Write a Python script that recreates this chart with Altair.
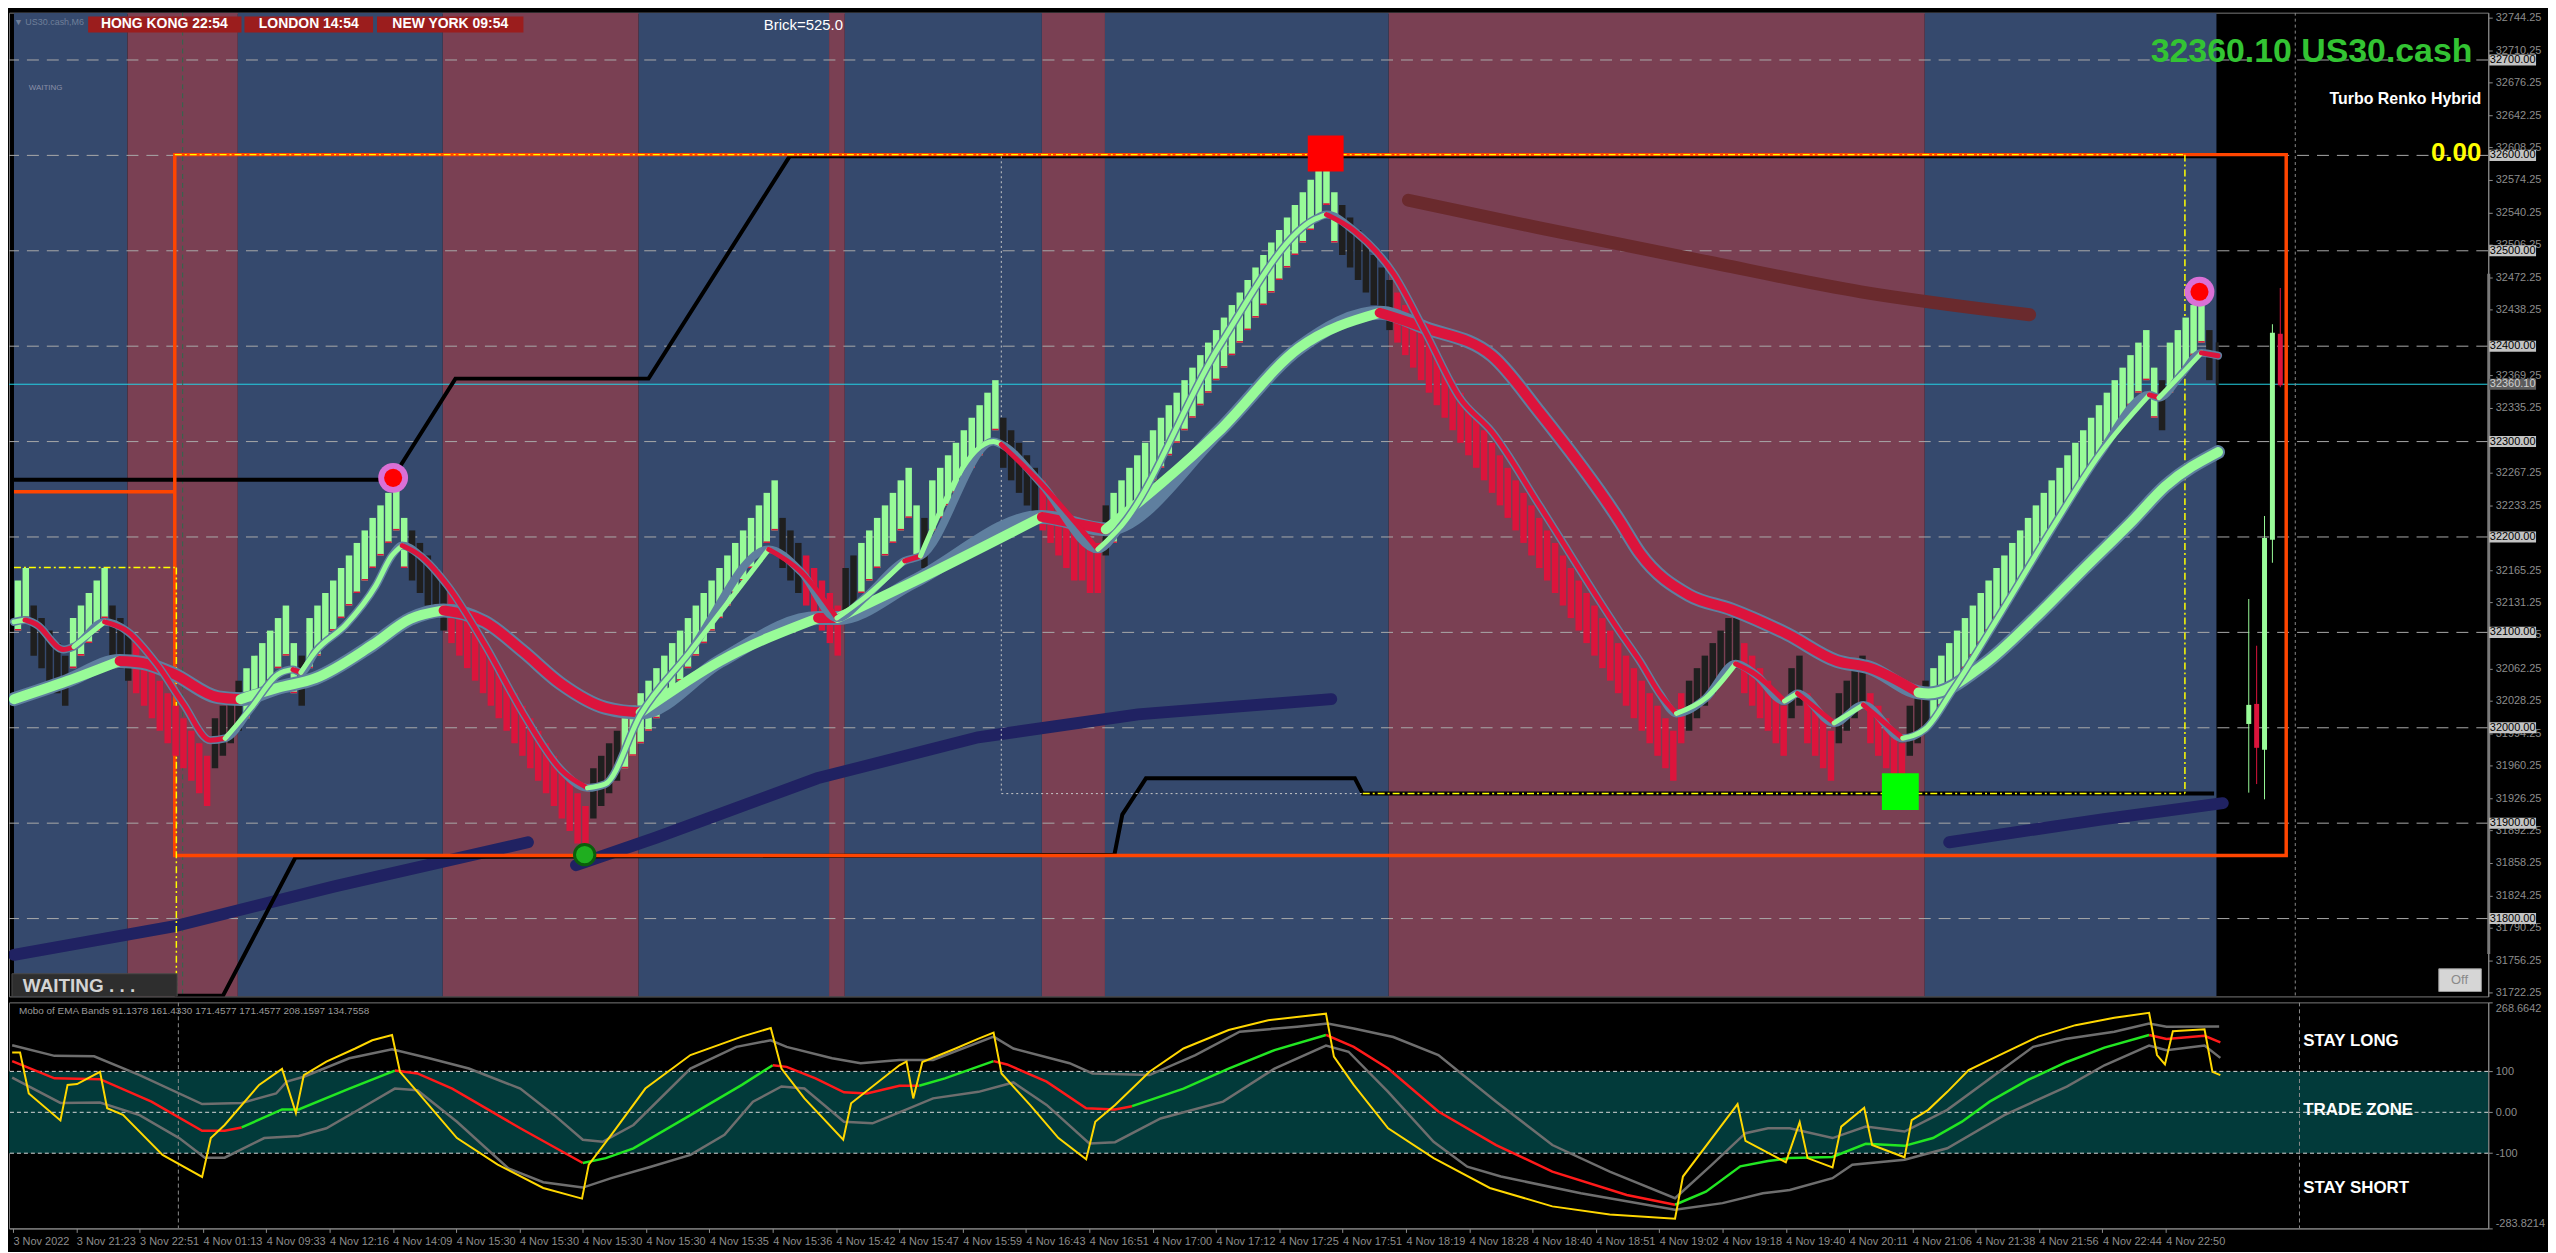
import altair as alt
import pandas as pd

# ---------------- layout ----------------
W, H1, H2 = 2490, 988, 227
SX, SY = W / 2506.0, H1 / 998.0

# ---------------- data ----------------
BRICK_BASE = 31800.0
BRICK_STEP = 13.125   # quarter of a brick
BRICK_SIZE = 52.5
BRICK_LEVEL = [27,28,25,24,23,22,21,24,25,26,27,28,25,24,23,
               22,21,20,19,18,17,16,15,14,13,
               16,17,18,19,
               20,21,22,23,24,25,
               22,21,
               24,25,26,27,28,29,30,31,32,33,34,35,
               32,
               31,30,29,28,27,
               26,25,24,23,22,21,20,19,18,17,16,15,14,13,12,11,10,9,
               12,13,14,15,
               16,17,18,19,20,21,22,23,24,25,26,27,28,29,30,31,32,33,34,35,
               32,31,30,
               29,28,27,26,25,
               28,29,
               30,31,32,33,34,35,36,
               33,
               32,
               35,36,37,38,39,40,41,42,43,
               40,39,38,37,36,
               35,34,33,32,31,31,30,30,
               33,
               34,35,36,37,38,39,40,41,42,43,44,45,46,47,48,49,50,51,52,53,54,55,56,57,58,59,60,61,
               58,
               57,56,55,54,53,52,51,
               50,49,48,47,46,45,44,43,42,41,40,39,38,37,36,35,34,33,32,31,30,29,28,27,26,25,24,23,22,21,20,19,18,17,16,15,
               18,
               19,20,21,22,23,24,24,
               22,21,20,19,18,17,
               20,21,
               18,17,16,15,
               18,19,20,21,
               18,17,16,15,14,
               17,18,19,
               20,21,22,23,24,25,26,27,28,29,30,31,32,33,34,35,36,37,38,39,40,41,42,43,44,45,46,47,
               44,
               43,
               46,47,48,49,50,
               47]
BRICK_RUNS = [("G",2),("K",5),("G",5),("K",3),("R",10),("K",4),("G",7),("K",1),("G",13),("K",5),
              ("R",18),("K",4),("G",20),("K",3),("R",5),("K",2),("G",8),("K",1),("G",9),("K",5),
              ("R",8),("K",1),("G",29),("K",7),("R",37),("K",7),("R",6),("K",2),("R",4),("K",4),
              ("R",5),("K",3),("G",29),("K",1),("G",5),("K",1)]

BAND_X0 = [-0.5, 13.9, 27.9, 53.9, 78.75, 102.9, 104.9, 129.9, 137.9, 173.9, 241.9]
BAND_X1 = [13.9, 27.9, 53.9, 78.75, 102.9, 104.9, 129.9, 137.9, 173.9, 241.9, 278.9]
BAND_K  = ["B", "M", "B", "M", "B", "M", "B", "M", "B", "M", "B"]

GRID_LEVELS = [32700, 32600, 32500, 32400, 32300, 32200, 32100, 32000, 31900, 31800]
PRICE_TICKS = [32744.25, 32710.25, 32676.25, 32642.25, 32608.25, 32574.25, 32540.25, 32506.25,
               32472.25, 32438.25, 32369.25, 32335.25, 32267.25, 32233.25,
               32165.25, 32131.25, 32097.25, 32062.25, 32028.25, 31994.25, 31960.25,
               31926.25, 31892.25, 31858.25, 31824.25, 31790.25, 31756.25, 31722.25]
LAST_PRICE = 32360.10

FAST_X = [-0.5,0.9,2.4,5.75,7.1,11,13.9,17.6,21,24.4,26.3,29.6,33,34.9,35.9,37.75,41.6,45.4,47.4,48.75,
          51.1,54.5,59.25,64.1,68.9,72.25,74.5,79,85.1,95.25,99.4,103.9,107.5,112.5,114.5,123.75,124.75,
          129.9,137,140,152.25,164.5,166,169.5,174.5,178.6,182.9,187,193.1,203.25,205.75,208.25,210.4,
          214.1,217.9,220.4,224.1,225.75,230.4,234.1,239.1,242,245.4,251.6,257.9,264.1,270.4,271.6,274.5,277,279.1]
FAST_P = [32111,32113,32108,32082,32085,32111,32101,32067,32025,31987,31989,32021,32056,32061,32058,
          32080,32108,32149,32180,32191,32180,32149,32087,32015,31956,31937,31941,32014,32078,32187,
          32163,32115,32137,32175,32180,32300,32297,32255,32187,32212,32398,32533,32538,32521,32476,
          32414,32346,32310,32232,32100,32070,32036,32015,32031,32067,32056,32028,32036,32005,32024,
          31989,31999,32039,32121,32207,32287,32349,32346,32371,32393,32390]
FAST_C = "GRRRG" "RRRRR" "GGGRG" "GGGGR" "RRRRR" "GGGGR" "RGGRG" "GRRGG" "GGRRR" "RRRRR" "RRGGR" "RGRGR" "GGGGG" "GRGGR" "R"

SLOW_X = [-0.5,6.25,12.9,15.75,19.6,25.4,28.25,33,37.75,45,49.75,54,59.25,64.1,68.9,74.5,79,89.1,101.5,104,
          113.6,129.9,138,152.25,162.5,172.75,178.6,187,193.1,203.25,205.75,212,217.4,224.5,230.75,234.9,
          241.1,242.4,249.5,255.75,262,268.25,272.4,279.1]
SLOW_P = [32030,32049,32070,32068,32057,32032,32030,32042,32052,32087,32114,32123,32111,32080,32046,
          32021,32016,32070,32115,32115,32153,32221,32208,32310,32398,32435,32419,32390,32330,32216,
          32183,32139,32124,32098,32070,32063,32037,32036,32067,32114,32166,32217,32253,32289]
SLOW_C = "GGRRR" "RGGGG" "GRRRR" "RGGRG" "GRGGG" "RRRRR" "RRRRR" "RGGGG" "GGGG"

NAVY_SEG = [0, 0, 0, 0, 1, 1, 1, 1, 1, 1, 2, 2, 2]
NAVY_X = [-0.5, 19.9, 40.3, 64.7, 70.8, 81, 101.4, 121.8, 142.1, 166.6, 245, 264.4, 279.7]
NAVY_P = [31762, 31792, 31834, 31880, 31856, 31885, 31947, 31990, 32014, 32030, 31880, 31904, 31921]

BROWN_X = [176.4, 193, 213.4, 233.8, 255.2]
BROWN_P = [32553, 32524, 32490, 32457, 32433]

STEP_UP_X = [-0.5, 47.4, 55.5, 80, 97.9, 287.8]
STEP_UP_P = [32260, 32260, 32366, 32366, 32599, 32599]
STEP_LO_X = [19.9, 26, 35.2, 139.1, 140.1, 143.1, 169.6, 170.6, 278.6]
STEP_LO_P = [31719, 31719, 31864, 31867, 31909, 31947, 31947, 31931, 31931]

ORANGE_X0, ORANGE_X1 = 19.9, 287.75
ORANGE_TOP, ORANGE_BOT = 32600.8, 31866
ORANGE_STUB_P = 32247.5

YEL_X0 = [-0.5, 20.1, 19.9, 274.9, 170.6]
YEL_X1 = [19.9, 20.1, 274.9, 274.9, 274.9]
YEL_P0 = [32168, 32168, 32600.8, 32600.8, 31931]
YEL_P1 = [32168, 31719, 32600.8, 31931, 31931]
WHT_X0 = [124.75, 124.75]
WHT_X1 = [124.75, 170.6]
WHT_P0 = [32599, 31931]
WHT_P1 = [31931, 31931]

RING_X = [47.6, 276.75]
RING_P = [32262, 32457]
RSQ_X, RSQ_P = [165.9], [32602]
GSQ_X, GSQ_P = [238.8], [31933]
GDOT_X, GDOT_P = [71.9], [31867]

CAN_X = [283, 284, 285, 286, 287]
CAN_O = [32004, 32025, 31977, 32197, 32413]
CAN_C = [32024, 31979, 32199, 32414, 32359]
CAN_H = [32135, 32086, 32222, 32423, 32461]
CAN_L = [31932, 31941, 31925, 32173, 32357]

YEL_OX = [-0.1,0.9,2,6,6.9,8.1,11,11.9,13.9,18.9,23.9,25,26.75,31.1,34,35.75,36.75,39.6,43.25,45.4,47.9,48.9,
          51.1,56.1,61.25,67,71.9,72.75,75.6,79.9,85.6,92.1,95.75,97.1,100,104.9,105.9,112,112.9,113.75,
          114.9,119.1,122,123.9,124.9,128.5,132.1,135.6,136.75,139.25,143.6,147.9,153.6,158.6,165.9,166.9,
          169.4,173.75,179.5,186.6,194.5,201.75,210,211,217.9,218.9,224,225.75,226.75,229.9,231,233.9,234.9,
          239,239.9,242,244.4,247.1,251,255.9,260.6,265.5,269.9,270.9,271.9,272.9,276.9,277.9,278.9]
YEL_OV = [146,146,46,-20,67,69,99,10,-6,-104,-158,-63,-31,67,106,-2,91,124,156,176,189,99,50,-63,-128,-185,
          -211,-128,-55,58,140,185,206,107,34,-67,22,115,124,34,123,156,180,195,95,18,-63,-115,-23,18,99,156,
          201,225,241,136,67,-39,-112,-185,-230,-250,-260,-157,20,-70,-122,-24,-112,-135,-35,11,-80,-110,
          -19,6,50,103,140,185,213,231,243,140,117,198,203,99,91]
MID_X = [-0.1,5.25,11,17.5,23.9,26.75,28.9,34,36.1,42.5,48.25,51.1,55.5,64.1,72,74.9,78.4,85.6,92.1,96,97.75,
         101.4,105,107.9,112,114.5,117.75,123.9,125.6,130.6,135.6,139.25,141.4,142.9,147.9,153.6,159.4,165.9,
         169.4,173.75,180.1,187.4,194.5,203.9,210,213.9,218.25,221.75,224.5,229.9,234.1,239,242.6,246.25,
         249.75,254.6,259.5,264.25,269.9,272.1,276.9,278.9]
MID_V = [125,83,81,26,-45,-45,-37,7,7,58,102,95,58,-39,-124,-112,-88,-7,67,115,111,83,49,46,65,65,83,125,117,
         75,10,7,15,25,58,107,152,189,160,107,2,-80,-145,-202,-226,-194,-132,-119,-112,-109,-77,-82,-63,-23,
         26,79,123,158,189,179,187,171]
MID_C = "RRRRRR" "GGGG" "RRRR" "GGGGG" "RRRRRR" "GG" "RRRRR" "GGGGG" "RRRRRRR" "GGGGGGGGGGGGGG" "RRRR"
UP_X = [-0.1,5.25,10.25,16,23.9,28.9,33.25,34.6,36.75,42.5,47.9,52.6,57.6,64.1,68.4,72,74.5,78.4,85.6,91.4,
        95.75,97.75,103.5,107.1,112,116.25,123.9,126.4,133.5,136.4,143.6,149.4,155,162.25,166.1,169.4,174.4,
        180.1,187.4,194.5,201.75,210,214.6,218.9,221.75,224.5,229.9,234.1,239,244.4,250.4,255.25,259.5,
        265.5,269.9,272.1,278.75]
UP_V = [164,138,137,91,20,23,46,75,87,132,154,132,107,58,-7,-67,-72,-31,107,160,176,160,132,120,128,128,185,
        156,120,95,91,140,197,209,217,205,184,140,26,-80,-145,-210,-129,-51,-39,-39,-63,-35,-47,6,91,160,180,
        197,217,209,210]
LO_X = [-0.1,6,11,16,21,24.25,26.75,31.75,36.1,39.6,44,48.25,51.1,56.1,62.6,67,72,75.6,80.6,85.6,89.9,93.5,
        97.1,100,105,108.6,112,116.25,122,126.4,130.6,136,139.25,145,152.9,159.4,165.9,168.75,173.75,179.5,
        183.75,188,198.1,210,216,221.1,224.5,229.9,232.4,239,244.4,251.6,259.5,264.25,269.9,272.1,276.9,278.9]
LO_V = [85,23,24,-7,-63,-111,-111,-63,-58,-39,10,58,54,-23,-137,-171,-184,-161,-133,-104,-55,26,63,58,-23,-27,
        0,34,50,73,18,-76,-73,-15,26,107,163,148,50,-72,-133,-157,-198,-238,-222,-198,-190,-161,-128,-116,
        -88,-7,63,115,163,152,163,133]
OSC_TICKS = [268.6642, 100, 0, -100, -283.8214]
OSC_TICK_LABELS = ["268.6642", "100", "0.00", "-100", "-283.8214"]

X_LABELS = ["3 Nov 2022", "3 Nov 21:23", "3 Nov 22:51", "4 Nov 01:13", "4 Nov 09:33", "4 Nov 12:16",
            "4 Nov 14:09", "4 Nov 15:30", "4 Nov 15:30", "4 Nov 15:30", "4 Nov 15:30", "4 Nov 15:35",
            "4 Nov 15:36", "4 Nov 15:42", "4 Nov 15:47", "4 Nov 15:59", "4 Nov 16:43", "4 Nov 16:51",
            "4 Nov 17:00", "4 Nov 17:12", "4 Nov 17:25", "4 Nov 17:51", "4 Nov 18:19", "4 Nov 18:28",
            "4 Nov 18:40", "4 Nov 18:51", "4 Nov 19:02", "4 Nov 19:18", "4 Nov 19:40", "4 Nov 20:11",
            "4 Nov 21:06", "4 Nov 21:38", "4 Nov 21:56", "4 Nov 22:44", "4 Nov 22:50"]
VLINE_GREEN_X = 20.9
VLINE_GREY_X = 288.9

# ---------------- styling ----------------
FONT = "Liberation Sans"
NARROW = "Liberation Sans Narrow, Liberation Sans, Arial"
GREY = "#8c8c8c"
OUTLINE = "#5f7f9f"
BRICK_COL = {"G": "#98fb98", "R": "#dc143c", "K": "#1f1f1f"}
BAND_COL = {"B": "#35496d", "M": "#7a4053"}
MA_COL = {"G": "#98fb98", "R": "#dc143c"}
OSC_COL = {"G": "#22e622", "R": "#ff1a1a"}

xs = alt.Scale(domain=[-0.5, 312.75], nice=False, zero=False)
ps = alt.Scale(domain=[31718.4, 32749.6], nice=False, zero=False)
oscs = alt.Scale(domain=[-283.8214, 268.6642], nice=False, zero=False)

AX_P = alt.Axis(orient="right", values=PRICE_TICKS, format=".2f", labelColor=GREY, labelFont=FONT,
                labelFontSize=11, tickColor=GREY, tickSize=4, domainColor=GREY, grid=False, title=None,
                labelPadding=3, labelOverlap=False)
AX_O = alt.Axis(orient="right", values=OSC_TICKS,
                labelExpr="[" + ",".join("'%s'" % s for s in OSC_TICK_LABELS) + "][indexof([" +
                          ",".join(str(v) for v in OSC_TICKS) + "], datum.value)]",
                labelColor=GREY, labelFont=FONT, labelFontSize=11, tickColor=GREY, tickSize=4,
                domainColor=GREY, grid=False, title=None, labelPadding=3, labelOverlap=False, labelFlush=True)
XTICK_POS = [8 * k for k in range(len(X_LABELS))]
AX_X = alt.Axis(values=XTICK_POS,
                labelExpr="[" + ",".join("'%s'" % s for s in X_LABELS) + "][round(datum.value/8)]",
                labelAlign="left", labelColor=GREY, labelFont=FONT, labelFontSize=11, tickColor=GREY,
                tickSize=4, domainColor=GREY, grid=False, title=None, labelPadding=3, labelOverlap=False,
                labelFlush=False)


def XM(f):
    return alt.X(f"{f}:Q", scale=xs, axis=None)


def YM(f):
    return alt.Y(f"{f}:Q", scale=ps, axis=AX_P)


def XL(f):
    return alt.X(f"{f}:Q", scale=xs, axis=AX_X)


def YL(f):
    return alt.Y(f"{f}:Q", scale=oscs, axis=AX_O)


COL = alt.Color("col:N", scale=None, legend=None)


def one():
    return pd.DataFrame({"a": [0]})


def ptext(s, px, py, size, color, weight="normal", align="left", font=FONT):
    return alt.Chart(pd.DataFrame({"t": [s]})).mark_text(
        fontSize=size, color=color, fontWeight=weight, align=align, baseline="middle", font=font, clip=True
    ).encode(x=alt.value(px), y=alt.value(py), text="t:N")


def prect(x0, y0, x1, y1, fill, stroke=None, sw=1):
    kw = dict(color=fill)
    if stroke:
        kw = dict(fill=fill, stroke=stroke, strokeWidth=sw)
    return alt.Chart(one()).mark_rect(clip=True, **kw).encode(
        x=alt.value(x0), x2=alt.value(x1), y=alt.value(y0), y2=alt.value(y1))


def colored_runs(xv, yv, cv, cmap):
    rows, rid, a, n = [], 0, 0, len(xv)
    while a < n - 1:
        b = a
        while b + 1 < n - 1 and cv[b + 1] == cv[a]:
            b += 1
        for j in range(a, b + 2):
            rows.append({"x": xv[j], "y": yv[j], "col": cmap[cv[a]], "r": rid, "o": j})
        rid += 1
        a = b + 1
    return pd.DataFrame(rows)


# ---------------- main panel ----------------
dirs = "".join(c * n for c, n in BRICK_RUNS)
assert len(dirs) == len(BRICK_LEVEL)
tops = [BRICK_BASE + BRICK_STEP * lv for lv in BRICK_LEVEL]
bricks = pd.DataFrame({"x": list(range(len(tops))), "top": tops,
                       "bot": [t - BRICK_SIZE for t in tops], "col": [BRICK_COL[c] for c in dirs],
                       "d": list(dirs)})

bands = pd.DataFrame({"x0": BAND_X0, "x1": BAND_X1, "col": [BAND_COL[k] for k in BAND_K]})
layer_bands = alt.Chart(bands).mark_rect(clip=True).encode(
    x=XM("x0"), x2="x1", y=alt.value(0), y2=alt.value(H1), color=COL)

layer_grid = alt.Chart(pd.DataFrame({"y": GRID_LEVELS})).mark_rule(
    color="#a9a9a9", strokeWidth=1, strokeDash=[12, 8], clip=True).encode(y=YM("y"))
layer_cyan = alt.Chart(pd.DataFrame({"y": [LAST_PRICE]})).mark_rule(
    color="#22d3e6", strokeWidth=1, clip=True).encode(y=YM("y"))
layer_vg = alt.Chart(pd.DataFrame({"x": [VLINE_GREEN_X]})).mark_rule(
    color="#2d6a4c", strokeWidth=1, strokeDash=[5, 4], clip=True).encode(x=XM("x"))
layer_vgrey = alt.Chart(pd.DataFrame({"x": [VLINE_GREY_X]})).mark_rule(
    color="#8a8a8a", strokeWidth=1, strokeDash=[3, 3], clip=True).encode(x=XM("x"))

layer_navy = alt.Chart(pd.DataFrame({"x": NAVY_X, "y": NAVY_P, "s": NAVY_SEG})).mark_line(
    color="#202262", strokeWidth=12, strokeCap="round", clip=True).encode(x=XM("x"), y=YM("y"), detail="s:N")
layer_brown = alt.Chart(pd.DataFrame({"x": BROWN_X, "y": BROWN_P})).mark_line(
    color="#6a2a2d", strokeWidth=13, strokeCap="round", interpolate="monotone", clip=True).encode(
    x=XM("x"), y=YM("y"))

steps = pd.DataFrame({"x": STEP_UP_X + STEP_LO_X, "y": STEP_UP_P + STEP_LO_P,
                      "s": ["u"] * len(STEP_UP_X) + ["l"] * len(STEP_LO_X),
                      "o": list(range(len(STEP_UP_X))) + list(range(len(STEP_LO_X)))})
layer_steps = alt.Chart(steps).mark_line(color="#000000", strokeWidth=4, clip=True).encode(
    x=XM("x"), y=YM("y"), detail="s:N", order="o:Q")

layer_orange = alt.Chart(pd.DataFrame({"x0": [ORANGE_X0], "x1": [ORANGE_X1], "y0": [ORANGE_TOP],
                                       "y1": [ORANGE_BOT]})).mark_rect(
    fill="#000000", fillOpacity=0, stroke="#ff4500", strokeWidth=3.5, clip=True).encode(
    x=XM("x0"), x2="x1", y=YM("y0"), y2="y1")
layer_ostub = alt.Chart(pd.DataFrame({"x0": [-0.5], "x1": [ORANGE_X0], "y": [ORANGE_STUB_P]})).mark_rule(
    color="#ff4500", strokeWidth=3.5, clip=True).encode(x=XM("x0"), x2="x1", y=YM("y"))

layer_yel = alt.Chart(pd.DataFrame({"x0": YEL_X0, "x1": YEL_X1, "y0": YEL_P0, "y1": YEL_P1})).mark_rule(
    color="#ffff00", strokeWidth=1.5, strokeDash=[7, 3, 2, 3], clip=True).encode(
    x=XM("x0"), x2="x1", y=YM("y0"), y2="y1")
layer_wht = alt.Chart(pd.DataFrame({"x0": WHT_X0, "x1": WHT_X1, "y0": WHT_P0, "y1": WHT_P1})).mark_rule(
    color="#c8c8c8", strokeWidth=1, strokeDash=[2, 3], clip=True).encode(
    x=XM("x0"), x2="x1", y=YM("y0"), y2="y1")

layer_bricks = alt.Chart(bricks).mark_bar(size=6.5, clip=True).encode(
    x=XM("x"), y=YM("top"), y2="bot", color=COL)
gfoot = bricks[bricks.d == "G"].copy()
gfoot["f2"] = gfoot["bot"] + 1.6
layer_foot = alt.Chart(gfoot).mark_bar(size=6.5, color="#dc143c", clip=True).encode(
    x=XM("x"), y=YM("bot"), y2="f2")

cand = pd.DataFrame({"x": CAN_X, "o": CAN_O, "c": CAN_C, "h": CAN_H, "l": CAN_L})
cand["col"] = [BRICK_COL["G"] if c > o else BRICK_COL["R"] for o, c in zip(CAN_O, CAN_C)]
layer_wick = alt.Chart(cand).mark_rule(strokeWidth=1, clip=True).encode(x=XM("x"), y=YM("l"), y2="h", color=COL)
layer_body = alt.Chart(cand).mark_bar(size=5, clip=True).encode(x=XM("x"), y=YM("o"), y2="c", color=COL)
layer_thin = alt.Chart(pd.DataFrame({"x": [279], "y0": [32404], "y1": [32359]})).mark_rule(
    color="#1a1a1a", strokeWidth=3, clip=True).encode(x=XM("x"), y=YM("y0"), y2="y1")

slow_df = colored_runs(SLOW_X, SLOW_P, SLOW_C, MA_COL)
fast_df = colored_runs(FAST_X, FAST_P, FAST_C, MA_COL)
layer_slow_o = alt.Chart(pd.DataFrame({"x": SLOW_X, "y": SLOW_P})).mark_line(
    color=OUTLINE, strokeWidth=14, strokeCap="round", strokeJoin="round", interpolate="monotone",
    clip=True).encode(x=XM("x"), y=YM("y"))
layer_slow = alt.Chart(slow_df).mark_line(strokeWidth=10, strokeCap="round", strokeJoin="round",
                                          interpolate="monotone", clip=True).encode(
    x=XM("x"), y=YM("y"), color=COL, detail="r:N", order="o:Q")
layer_fast_o = alt.Chart(pd.DataFrame({"x": FAST_X, "y": FAST_P})).mark_line(
    color=OUTLINE, strokeWidth=8, strokeCap="round", strokeJoin="round", interpolate="monotone",
    clip=True).encode(x=XM("x"), y=YM("y"))
layer_fast = alt.Chart(fast_df).mark_line(strokeWidth=5, strokeCap="round", strokeJoin="round",
                                          interpolate="monotone", clip=True).encode(
    x=XM("x"), y=YM("y"), color=COL, detail="r:N", order="o:Q")

ring_df = pd.DataFrame({"x": RING_X, "y": RING_P})
layer_ring = alt.Chart(ring_df).mark_circle(size=900, color="#da70d6", opacity=1, clip=True).encode(
    x=XM("x"), y=YM("y"))
layer_ring_in = alt.Chart(ring_df).mark_circle(size=330, color="#ff0000", opacity=1, clip=True).encode(
    x=XM("x"), y=YM("y"))
layer_rsq = alt.Chart(pd.DataFrame({"x": RSQ_X, "y": RSQ_P})).mark_square(
    size=1296, color="#ff0000", opacity=1, clip=True).encode(x=XM("x"), y=YM("y"))
layer_gsq = alt.Chart(pd.DataFrame({"x": GSQ_X, "y": GSQ_P})).mark_square(
    size=1369, color="#00ff00", opacity=1, clip=True).encode(x=XM("x"), y=YM("y"))
layer_gdot = alt.Chart(pd.DataFrame({"x": GDOT_X, "y": GDOT_P})).mark_circle(
    size=420, color="#1fae1f", stroke="#0b5e0b", strokeWidth=3, opacity=1, clip=True).encode(
    x=XM("x"), y=YM("y"))

box_df = pd.DataFrame({"y": GRID_LEVELS, "t": ["%.2f" % v for v in GRID_LEVELS]})
box_df["y0"] = box_df["y"] + 5.8
box_df["y1"] = box_df["y"] - 5.8
layer_box = alt.Chart(box_df).mark_rect(color="#c3c3c3").encode(
    x=alt.value(W + 1), x2=alt.value(W + 48), y=YM("y0"), y2="y1")
layer_boxt = alt.Chart(box_df).mark_text(fontSize=11, font=FONT, color="#000000", align="center",
                                         baseline="middle").encode(x=alt.value(W + 24.5), y=YM("y"), text="t:N")
lp_df = pd.DataFrame({"y": [LAST_PRICE], "t": ["%.2f" % LAST_PRICE]})
lp_df["y0"] = lp_df["y"] + 5.8
lp_df["y1"] = lp_df["y"] - 5.8
layer_lpbox = alt.Chart(lp_df).mark_rect(color="#5c5c5c").encode(
    x=alt.value(W + 1), x2=alt.value(W + 48), y=YM("y0"), y2="y1")
layer_lpt = alt.Chart(lp_df).mark_text(fontSize=11, font=FONT, color="#d0d0d0", align="center",
                                       baseline="middle").encode(x=alt.value(W + 24.5), y=YM("y"), text="t:N")
sb_df = pd.DataFrame({"y0": [32475.8], "y1": [31762.8]})
layer_scroll = alt.Chart(sb_df).mark_rule(color="#7a7a7a", strokeWidth=3).encode(
    x=alt.value(W + 0.5), y=YM("y0"), y2="y1")

texts_main = [
    ptext("▼ US30.cash,M6", 5 * SX, 9 * SY, 9, "#6f7f99"),
    prect(80 * SX, 4 * SY, 235 * SX, 20 * SY, "#9b1d1d"),
    prect(238 * SX, 4 * SY, 368 * SX, 20 * SY, "#9b1d1d"),
    prect(372 * SX, 4 * SY, 520 * SX, 20 * SY, "#9b1d1d"),
    ptext("HONG KONG 22:54", 157 * SX, 12 * SY, 14, "#ffffff", "bold", "center", NARROW),
    ptext("LONDON   14:54", 303 * SX, 12 * SY, 14, "#ffffff", "bold", "center", NARROW),
    ptext("NEW YORK  09:54", 446 * SX, 12 * SY, 14, "#ffffff", "bold", "center", NARROW),
    ptext("Brick=525.0", 803 * SX, 13 * SY, 15, "#ffffff", "normal", "center", NARROW),
    ptext("WAITING", 20 * SX, 76 * SY, 8, "#8a8fa8"),
    ptext("32360.10 US30.cash", 2490 * SX, 40 * SY, 34, "#33c433", "bold", "right", NARROW),
    ptext("Turbo Renko Hybrid", 2499 * SX, 88 * SY, 16, "#ffffff", "bold", "right", NARROW),
    ptext("0.00", 2499 * SX, 142 * SY, 26, "#ffff00", "bold", "right", NARROW),
    prect(3 * SX, 975 * SY, 170 * SX, 998 * SY, "#2e2e2e", "#4a4a4a", 1),
    ptext("WAITING . . .", 14 * SX, 987 * SY, 19, "#d4d4d4", "bold", "left", NARROW),
    prect(2456 * SX, 970 * SY, 2499 * SX, 993 * SY, "#d6d6d6", "#9a9a9a", 1),
    ptext("Off", 2477 * SX, 981 * SY, 13, "#8a8a8a", "normal", "center", FONT),
]

main = alt.layer(
    layer_bands, layer_grid, layer_cyan, layer_vg, layer_vgrey, layer_navy, layer_brown, layer_steps,
    layer_orange, layer_ostub, layer_yel, layer_wht, layer_bricks, layer_foot, layer_wick, layer_body,
    layer_thin, layer_slow_o, layer_slow, layer_fast_o, layer_fast, layer_ring, layer_ring_in, layer_rsq,
    layer_gsq, layer_gdot, layer_scroll, layer_box, layer_boxt, layer_lpbox, layer_lpt, *texts_main
).properties(width=W, height=H1)

# ---------------- lower panel ----------------
layer_teal = alt.Chart(pd.DataFrame({"y0": [100], "y1": [-100]})).mark_rect(color="#023a3a", clip=True).encode(
    x=alt.value(0), x2=alt.value(W), y=YL("y0"), y2="y1")
layer_hl = alt.Chart(pd.DataFrame({"y": [100, 0, -100]})).mark_rule(
    color="#d8d8d8", strokeWidth=1, strokeDash=[4, 3], clip=True).encode(y=YL("y"))
layer_vl = alt.Chart(pd.DataFrame({"x": [VLINE_GREEN_X, VLINE_GREY_X]})).mark_rule(
    color="#8a8a8a", strokeWidth=1, strokeDash=[4, 3], clip=True).encode(x=XL("x"))
bands_df = pd.DataFrame({"x": UP_X + LO_X, "y": UP_V + LO_V,
                         "s": ["u"] * len(UP_X) + ["l"] * len(LO_X),
                         "o": list(range(len(UP_X))) + list(range(len(LO_X)))})
layer_osc_bands = alt.Chart(bands_df).mark_line(color="#6e6e6e", strokeWidth=2.5, clip=True).encode(
    x=XL("x"), y=YL("y"), detail="s:N", order="o:Q")
mid_df = colored_runs(MID_X, MID_V, MID_C, OSC_COL)
layer_mid = alt.Chart(mid_df).mark_line(strokeWidth=2.5, clip=True).encode(
    x=XL("x"), y=YL("y"), color=COL, detail="r:N", order="o:Q")
layer_yosc = alt.Chart(pd.DataFrame({"x": YEL_OX, "y": YEL_OV})).mark_line(
    color="#ffd700", strokeWidth=2, clip=True).encode(x=XL("x"), y=YL("y"))

SY2 = H2 / 229.0
texts_low = [
    ptext("Mobo of EMA Bands 91.1378 161.4330 171.4577 171.4577 208.1597 134.7558", 10 * SX, 9 * SY2, 10,
          "#9a9a9a", "normal", "left", NARROW),
    ptext("STAY LONG", 2319 * SX, 39 * SY2, 17, "#ffffff", "bold", "left", NARROW),
    ptext("TRADE ZONE", 2319 * SX, 109 * SY2, 17, "#ffffff", "bold", "left", NARROW),
    ptext("STAY SHORT", 2319 * SX, 188 * SY2, 17, "#ffffff", "bold", "left", NARROW),
]

lower = alt.layer(layer_teal, layer_hl, layer_vl, layer_osc_bands, layer_mid, layer_yosc, *texts_low
                  ).properties(width=W, height=H2)

chart = alt.vconcat(main, lower, spacing=3).properties(
    background="#000000", padding={"left": 0, "top": 0, "right": 2, "bottom": 2}
).configure_view(stroke="#7a7a7a", strokeWidth=1)

chart.save("out.html", embed_options={"renderer": "svg", "actions": False})
